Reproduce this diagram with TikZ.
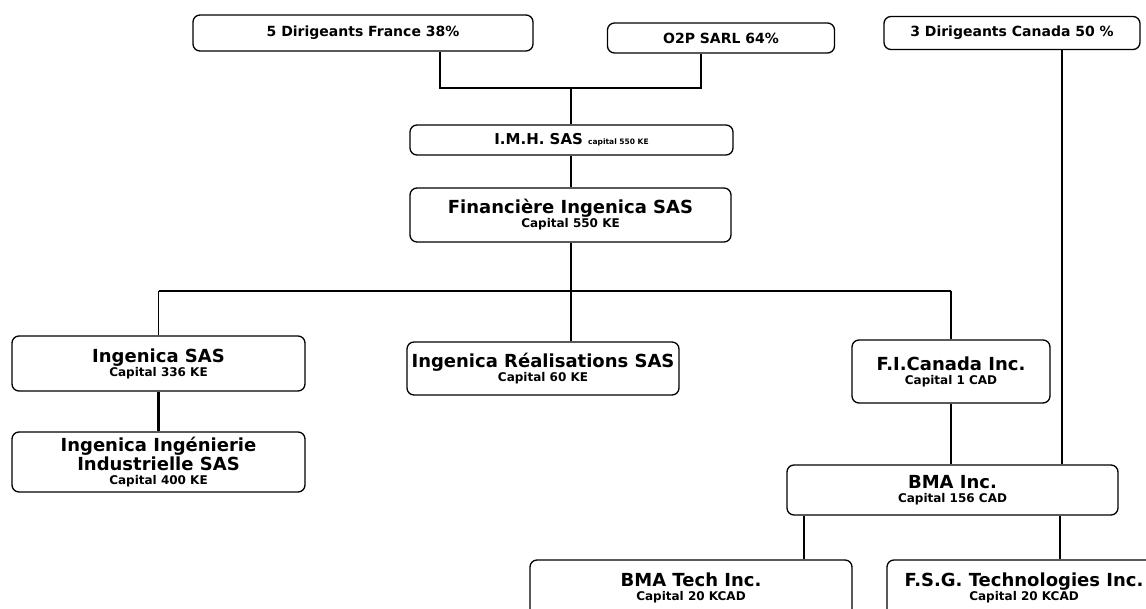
\documentclass[tikz,border=0pt]{standalone}
\usepackage{fontspec}
\setmainfont{DejaVu Sans}
\usetikzlibrary{calc}

\tikzset{
	orgbox/.style={draw,rounded corners=7pt,line width=1.3pt,align=center,inner sep=1pt,
		font=\fontsize{18}{16}\selectfont\bfseries},
	topbox/.style={orgbox,font=\fontsize{14}{14}\selectfont\bfseries},
	link/.style={line width=1.1pt},
	thicklink/.style={line width=2.4pt},
}
\newcommand{\capline}[1]{{\fontsize{12}{12}\selectfont #1}}

\begin{document}
\begin{tikzpicture}[x=1pt,y=-1pt]
	\clip (0,0) rectangle (1146,609);
	% Shareholders
	\node[topbox,minimum width=340pt,minimum height=36pt] (d_france) at (363,33) {5 Dirigeants France 38\%};
	\node[topbox,minimum width=227pt,minimum height=30pt] (o2p) at (721,38) {O2P SARL 64\%};
	\node[topbox,minimum width=256pt,minimum height=33pt] (d_canada) at (1012,33) {3 Dirigeants Canada 50 \%};

	% Holdings
	\node[orgbox,minimum width=323pt,minimum height=30pt,font=\fontsize{15}{15}\selectfont\bfseries] (imh) at (571.5,140)
		{I.M.H. SAS {\fontsize{7.5}{8}\selectfont capital 550 KE}};
	\node[orgbox,minimum width=321pt,minimum height=54pt] (fin) at (570.5,215)
		{Financière Ingenica SAS\\[-2pt]\capline{Capital 550 KE}};

	% Subsidiaries
	\node[orgbox,minimum width=293pt,minimum height=55pt] (ing) at (158.5,363.5)
		{Ingenica SAS\\[-2pt]\capline{Capital 336 KE}};
	\node[orgbox,minimum width=293pt,minimum height=60pt] (ingind) at (158.5,462)
		{Ingenica Ingénierie\\[1pt]Industrielle SAS\\[-2pt]\capline{Capital 400 KE}};
	\node[orgbox,minimum width=272pt,minimum height=53pt] (ingreal) at (543,368.5)
		{Ingenica Réalisations SAS\\[-2pt]\capline{Capital 60 KE}};
	\node[orgbox,minimum width=198pt,minimum height=63pt] (ficanada) at (951,371.5)
		{F.I.Canada Inc.\\[-2pt]\capline{Capital 1 CAD}};
	\node[orgbox,minimum width=331pt,minimum height=50pt] (bma) at (952.5,490)
		{BMA Inc.\\[-2pt]\capline{Capital 156 CAD}};
	\node[orgbox,minimum width=322pt,minimum height=56pt] (bmatech) at (691,588)
		{BMA Tech Inc.\\[-2pt]\capline{Capital 20 KCAD}};
	\node[orgbox,minimum width=274pt,minimum height=56pt] (fsg) at (1024,588)
		{F.S.G. Technologies Inc.\\[-2pt]\capline{Capital 20 KCAD}};

	% Links
	\coordinate (j_top) at (571,88);
	\coordinate (bus) at (571,291);
	\coordinate (can_line) at (1062,0);
	\coordinate (tech_line) at (804,0);
	\coordinate (fsg_line) at (1060,0);

	\draw[thicklink] ($(d_france.south)+(77,0)$) |- (j_top) -| ($(o2p.south)+(-20,0)$);
	\draw[thicklink] (j_top) -- (imh.north -| j_top);
	\draw[link] (imh.south -| j_top) -- (fin.north -| j_top);
	\draw[thicklink] (fin.south -| bus) -- (bus);
	\draw[thicklink] (ing.north |- bus) -- (ficanada.north |- bus);
	\draw[link] (ing.north |- bus) -- (ing.north);
	\draw[link] (bus) -- (ingreal.north -| bus);
	\draw[thicklink] (ficanada.north |- bus) -- (ficanada.north);
	\draw[thicklink] (ing.south) -- (ingind.north);
	\draw[thicklink] (ficanada.south) -- (bma.north -| ficanada.south);
	\draw[link] (d_canada.south -| can_line) -- (bma.north -| can_line);
	\draw[link] (bma.south -| tech_line) -- (bmatech.north -| tech_line);
	\draw[link] (bma.south -| fsg_line) -- (fsg.north -| fsg_line);
\end{tikzpicture}
\end{document}
